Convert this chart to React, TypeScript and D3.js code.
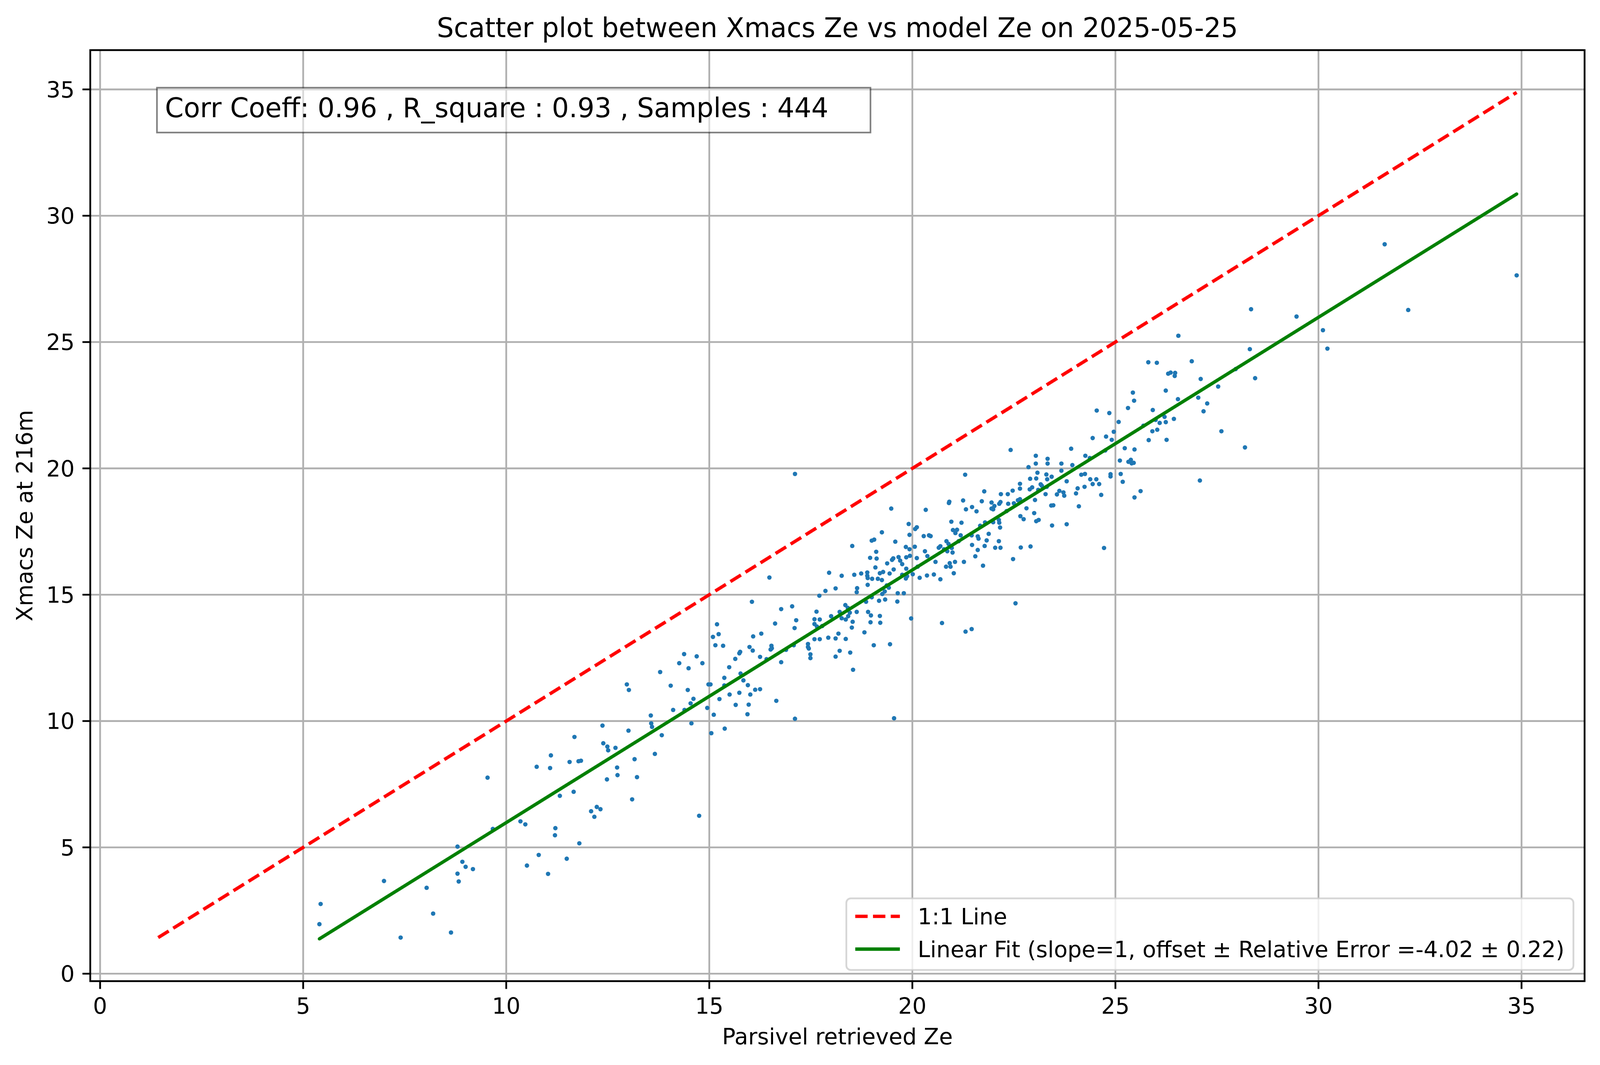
import React, { useLayoutEffect, useRef, useState } from "react";
import * as d3 from "d3";

// ---------- data ----------
const titleText = "Scatter plot between Xmacs Ze vs model Ze on 2025-05-25";
const xLabelText = "Parsivel retrieved Ze";
const yLabelText = "Xmacs Ze at 216m";
const statsText = "Corr Coeff: 0.96 , R_square : 0.93 , Samples : 444    ";
const legendLabels = ["1:1 Line", "Linear Fit (slope=1, offset \u00b1 Relative Error =-4.02 \u00b1 0.22)"];
const fitSlope = 1;
const fitOffset = -4.02;
const xTicks = [0, 5, 10, 15, 20, 25, 30, 35];
const yTicks = [0, 5, 10, 15, 20, 25, 30, 35];

// [Parsivel retrieved Ze, Xmacs Ze]
const lowRangePoints: [number, number][] = [
  [5.43, 2.76], [5.40, 1.96], [6.99, 3.67], [7.40, 1.43], [8.04, 3.40], [8.20, 2.38],
  [8.64, 1.63], [9.54, 7.76], [9.67, 5.73], [8.80, 5.03], [8.92, 4.43], [9.0, 4.23], [9.18, 4.14],
  [8.80, 3.96], [8.83, 3.65], [10.35, 6.03], [10.47, 5.91], [10.51, 4.28], [10.80, 4.70], [11.03, 3.95],
  [11.21, 5.76], [11.20, 5.48], [11.49, 4.55], [11.80, 5.16], [10.75, 8.19], [11.10, 8.64], [11.08, 8.14],
  [11.32, 7.04], [11.56, 8.38], [11.66, 7.20], [11.68, 9.37], [11.78, 8.41], [11.84, 8.43], [12.09, 6.43],
  [12.17, 6.21], [12.23, 6.60], [12.32, 6.51], [12.37, 9.82], [12.39, 9.12], [12.49, 8.99], [12.51, 8.84],
  [12.48, 7.69], [12.69, 8.94], [12.73, 8.16], [12.74, 7.86], [12.97, 11.45], [13.02, 11.23], [13.01, 9.62],
  [13.16, 8.49], [13.22, 7.78], [13.10, 6.90], [13.56, 10.22], [13.57, 9.91], [13.59, 9.77], [13.66, 8.70],
  [13.83, 9.44], [13.79, 11.94], [14.05, 11.40], [14.11, 10.44],
];

const midLowPoints: [number, number][] = [
  [14.26, 12.29], [14.38, 12.65], [14.49, 12.09], [14.69, 12.56], [14.83, 12.29], [14.47, 11.23], [14.61, 10.88],
  [14.54, 10.70], [14.39, 10.44], [14.56, 9.91], [14.95, 10.52], [14.98, 11.45], [15.03, 11.45], [15.09, 13.33],
  [15.19, 13.83], [15.23, 13.44], [15.15, 13.0], [15.34, 12.98], [15.11, 10.25], [15.05, 9.52], [15.25, 10.87],
  [15.38, 9.70], [15.37, 11.71], [15.37, 11.41], [15.49, 12.13], [15.50, 11.05], [15.64, 12.46], [15.74, 12.68],
  [15.76, 12.74], [15.77, 11.88], [15.84, 11.61], [15.74, 11.12], [15.65, 10.64], [15.95, 11.42], [16.01, 11.05],
  [15.97, 10.65], [15.94, 10.27], [16.13, 11.24], [16.25, 11.26], [15.99, 12.93], [16.07, 12.79], [16.08, 13.35],
  [16.05, 14.72], [16.28, 13.46], [16.25, 12.54], [16.41, 12.45], [16.48, 15.68], [16.53, 12.98], [16.51, 12.83],
  [16.54, 12.88], [16.62, 13.86], [16.77, 14.43], [16.77, 12.33], [16.65, 10.80], [16.89, 12.82], [17.04, 14.54],
  [17.14, 13.99], [17.10, 13.68], [17.08, 13.0], [17.11, 10.09], [17.43, 13.05], [17.43, 12.93], [17.45, 12.87],
  [17.49, 12.64], [17.49, 12.49], [17.59, 14.03], [17.59, 13.84], [17.64, 14.33], [17.72, 14.02], [17.71, 14.96],
  [17.65, 13.74], [17.78, 13.76], [17.59, 13.24], [17.72, 13.24], [17.86, 15.15], [17.95, 15.87], [18.11, 15.25],
  [18.26, 15.75], [18.52, 16.93], [18.57, 15.79], [17.93, 13.30], [18.0, 14.15], [18.11, 13.27], [18.18, 13.46],
  [18.11, 12.55], [18.21, 12.78], [18.21, 14.32], [18.35, 14.59], [18.26, 14.07], [18.36, 14.02], [18.42, 14.15],
  [18.46, 14.29], [18.41, 14.48], [18.53, 13.93], [18.51, 13.70], [18.36, 13.25], [18.47, 12.71], [18.54, 12.03],
  [17.11, 19.78], [14.75, 6.25],
];

const midPoints: [number, number][] = [
  [18.64, 15.26], [18.63, 15.10], [18.63, 14.32], [18.74, 15.84], [18.89, 15.88], [18.89, 15.75], [18.90, 15.66],
  [19.01, 15.63], [18.90, 15.39], [18.96, 16.46], [19.00, 17.14], [19.06, 17.18], [19.11, 16.70], [19.12, 16.43],
  [19.09, 16.08], [19.15, 15.63], [19.20, 15.85], [19.28, 15.90], [19.25, 15.58], [19.25, 17.47], [19.38, 16.24],
  [19.44, 15.84], [19.48, 18.41], [19.50, 16.38], [19.53, 16.44], [19.54, 16.0], [19.58, 17.10], [19.66, 16.49],
  [19.70, 16.35], [19.75, 16.21], [19.85, 16.48], [19.84, 16.89], [19.93, 16.80], [19.94, 16.54], [19.91, 17.80],
  [19.93, 17.37], [19.85, 16.03], [19.84, 15.64], [19.87, 15.73], [19.75, 15.79], [20.01, 15.81], [20.06, 16.90],
  [20.07, 17.60], [20.11, 17.67], [20.11, 16.45], [20.13, 16.11], [20.18, 15.67], [20.28, 17.32], [20.33, 18.36],
  [20.41, 17.35], [20.45, 17.32], [20.31, 16.72], [20.37, 16.53], [20.36, 15.76], [20.53, 15.80], [20.57, 16.30],
  [20.69, 15.61], [20.65, 16.86], [20.69, 16.92], [20.78, 16.80], [20.84, 17.12], [20.89, 17.01], [20.86, 16.72],
  [20.90, 18.63], [20.91, 18.68], [20.96, 17.89], [21.0, 17.56], [21.06, 17.44], [21.10, 17.57], [20.97, 16.85],
  [20.99, 16.67], [20.92, 16.25], [20.94, 16.11], [20.83, 16.11], [21.05, 16.30], [21.02, 15.85], [20.73, 13.88],
  [21.14, 17.12], [21.19, 17.35], [21.21, 17.85], [21.25, 18.73], [21.30, 19.75], [21.32, 18.38], [21.47, 18.47],
  [21.58, 18.30], [21.46, 17.35], [21.47, 16.97], [21.27, 16.30], [21.55, 16.52], [21.61, 16.77], [21.61, 17.31],
  [21.63, 17.22], [21.67, 17.73], [21.71, 18.70], [21.77, 19.09], [21.83, 17.15], [21.78, 16.93], [21.88, 17.41],
  [21.79, 17.86], [21.74, 16.15], [21.95, 18.65], [21.95, 18.41], [21.99, 18.38], [22.02, 18.51], [21.99, 17.87],
  [22.04, 16.86], [21.31, 13.54], [21.46, 13.64], [19.97, 14.06], [19.63, 14.73], [19.64, 15.06], [19.79, 15.06],
  [19.33, 14.81], [19.26, 15.03], [19.32, 15.13], [19.37, 15.37], [19.42, 15.28], [19.18, 14.76], [19.0, 14.90],
  [18.86, 14.72], [18.91, 14.32], [18.98, 14.18], [18.97, 13.91], [19.20, 14.16], [19.21, 13.89], [18.82, 13.51],
  [19.05, 13.0], [19.45, 13.04], [19.55, 10.11],
];

const midHighPoints: [number, number][] = [
  [22.14, 18.60], [22.17, 18.67], [22.18, 18.98], [22.13, 17.96], [22.14, 17.85], [22.16, 17.66], [22.13, 17.12],
  [22.17, 16.86], [22.32, 18.31], [22.35, 18.98], [22.36, 18.60], [22.47, 19.12], [22.50, 18.62], [22.42, 20.73],
  [22.60, 18.74], [22.65, 18.78], [22.65, 19.39], [22.65, 19.20], [22.66, 18.11], [22.74, 17.99], [22.67, 16.87],
  [22.48, 16.41], [22.54, 14.66], [22.81, 18.42], [22.86, 20.05], [22.90, 19.59], [22.89, 19.17], [22.95, 19.25],
  [22.91, 16.91], [23.0, 18.23], [23.02, 18.75], [23.05, 17.91], [23.11, 17.96], [23.04, 20.50], [23.04, 20.19],
  [23.08, 19.83], [23.05, 19.60], [23.10, 19.15], [23.16, 19.37], [23.19, 19.31], [23.28, 18.98], [23.30, 19.76],
  [23.32, 19.57], [23.33, 20.38], [23.33, 20.19], [23.31, 19.27], [23.43, 19.67], [23.42, 18.53], [23.47, 18.54],
  [23.44, 17.74], [23.56, 18.97], [23.62, 19.11], [23.67, 20.19], [23.67, 19.91], [23.72, 19.05], [23.74, 18.92],
  [23.80, 19.49], [23.80, 17.79], [23.91, 20.78], [23.94, 20.13], [24.03, 19.01], [24.07, 19.21], [24.10, 18.50],
  [24.16, 19.75], [24.25, 19.78], [24.26, 20.50], [24.24, 19.27], [24.37, 20.41], [24.38, 19.57], [24.44, 19.38],
  [24.44, 21.20], [24.53, 19.57], [24.54, 22.29], [24.60, 19.38], [24.65, 18.95], [24.72, 16.85], [24.75, 20.71],
  [24.77, 21.26], [24.85, 22.19], [24.91, 21.13], [24.96, 21.45], [24.88, 19.77], [24.88, 19.68], [25.08, 21.84],
  [25.11, 20.31], [25.23, 20.80], [25.13, 19.78], [25.18, 19.47], [25.31, 22.39], [25.43, 23.0], [25.46, 22.68],
  [25.47, 20.75], [25.32, 20.26], [25.38, 20.34], [25.40, 20.20], [25.45, 20.22], [25.47, 18.85], [25.62, 19.10],
  [25.69, 21.69],
];

const highRangePoints: [number, number][] = [
  [25.81, 24.20], [26.02, 24.18], [26.55, 25.25], [26.88, 24.24], [26.30, 23.75], [26.36, 23.79], [26.47, 23.78],
  [26.46, 23.66], [26.24, 23.08], [26.54, 22.74], [25.92, 22.31], [25.99, 21.92], [26.21, 22.04], [26.09, 21.80],
  [26.24, 21.83], [26.44, 21.96], [25.91, 21.47], [26.03, 21.53], [25.82, 21.12], [26.26, 21.13], [27.10, 23.54],
  [27.04, 22.80], [27.26, 22.57], [27.17, 22.26], [27.53, 23.24], [27.61, 21.47], [27.08, 19.52], [27.96, 23.93],
  [28.19, 20.83], [28.31, 24.72], [28.34, 26.30], [28.44, 23.57], [29.46, 26.01], [30.11, 25.47], [30.22, 24.74],
  [31.63, 28.87], [32.21, 26.27], [34.88, 27.64],
];

const allPoints: [number, number][] = [
  ...lowRangePoints, ...midLowPoints, ...midPoints, ...midHighPoints, ...highRangePoints,
];

// ---------- layout ----------
const W = 4981;
const H_REF = 2726;
const PT = 500 / 72; // px per point
const FONT = "'DejaVu Sans', 'Liberation Sans', sans-serif";
const TICK_FS = 10 * PT;
const TITLE_FS = 12 * PT;
const BLUE = "#1f77b4";

function viewportHeightUnits(): number {
  if (typeof window === "undefined" || !window.innerWidth || !window.innerHeight) return H_REF;
  return (W * window.innerHeight) / window.innerWidth;
}

export default function App() {
  const legendRef = useRef<SVGTextElement>(null);
  const [legendTextW, setLegendTextW] = useState(2010);
  const [H, setH] = useState<number>(viewportHeightUnits());

  useLayoutEffect(() => {
    document.body.style.margin = "0";
    document.documentElement.style.overflow = "hidden";
    document.body.style.overflow = "hidden";
    setH(viewportHeightUnits());
    if (legendRef.current) {
      setLegendTextW(legendRef.current.getComputedTextLength());
    }
    const onResize = () => setH(viewportHeightUnits());
    window.addEventListener("resize", onResize);
    return () => window.removeEventListener("resize", onResize);
  }, []);

  const AX = { left: 281, top: 156, right: 4933, bottom: H - (H_REF - 2465) };

  const xsArr = allPoints.map((p) => p[0]);
  const ysArr = allPoints.map((p) => p[1]);
  const minX = d3.min(xsArr) as number;
  const maxX = d3.max(xsArr) as number;
  const minY = d3.min(ysArr) as number;
  const maxY = d3.max(ysArr) as number;
  const oneLo = Math.min(minX, minY);
  const oneHi = Math.max(maxX, maxY);
  const oneLine: [number, number][] = [[oneLo, oneLo], [oneHi, oneHi]];
  const fitLine: [number, number][] = [
    [minX, fitSlope * minX + fitOffset],
    [maxX, fitSlope * maxX + fitOffset],
  ];

  const xLo = Math.min(oneLo, minX);
  const xHi = Math.max(oneHi, maxX);
  const yLo = Math.min(oneLo, minY, fitLine[0][1]);
  const yHi = Math.max(oneHi, maxY, fitLine[1][1]);
  const xPad = 0.05 * (xHi - xLo);
  const yPad = 0.05 * (yHi - yLo);

  const x = d3.scaleLinear().domain([xLo - xPad, xHi + xPad]).range([AX.left, AX.right]);
  const y = d3.scaleLinear().domain([yLo - yPad, yHi + yPad]).range([AX.bottom, AX.top]);
  const line = d3.line<[number, number]>().x((d) => x(d[0])).y((d) => y(d[1]));

  const gridW = 0.8 * PT;
  const tickLen = 3.5 * PT;
  const tickPad = 3.5 * PT;
  const lineW = 1.5 * PT;
  const dash = `${3.7 * lineW} ${1.6 * lineW}`;

  // stats box (text at axes fraction 0.05, 0.95, va=top)
  const statsX = AX.left + 0.05 * (AX.right - AX.left);
  const statsBaseline = AX.top + 0.05 * (AX.bottom - AX.top) + 0.76 * TITLE_FS;
  const statsPad = 0.3 * TITLE_FS;

  // legend geometry
  const lgFs = TICK_FS;
  const lgBorderPad = 0.4 * lgFs;
  const lgHandleLen = 2.0 * lgFs;
  const lgHandlePad = 0.8 * lgFs;
  const lgRight = AX.right - 0.5 * lgFs;
  const lgBottom = AX.bottom - 0.5 * lgFs;
  const lgWidth = lgBorderPad * 2 + lgHandleLen + lgHandlePad + legendTextW;
  const lgHeight = 223;
  const lgLeft = lgRight - lgWidth;
  const lgTop = lgBottom - lgHeight;
  const rowCenters = [lgTop + 56, lgTop + 158];

  return (
    <svg
      viewBox={`0 0 ${W} ${H}`}
      preserveAspectRatio="xMinYMin meet"
      style={{ display: "block", width: "100vw", height: "100vh" }}
      fontFamily={FONT}
    >
      <rect x={0} y={0} width={W} height={H} fill="#ffffff" />
      <defs>
        <clipPath id="axclip">
          <rect x={AX.left} y={AX.top} width={AX.right - AX.left} height={AX.bottom - AX.top} />
        </clipPath>
      </defs>
      {/* grid */}
      <g stroke="#b0b0b0" strokeWidth={gridW}>
        {xTicks.map((t) => (
          <line key={"gx" + t} x1={x(t)} x2={x(t)} y1={AX.top} y2={AX.bottom} />
        ))}
        {yTicks.map((t) => (
          <line key={"gy" + t} x1={AX.left} x2={AX.right} y1={y(t)} y2={y(t)} />
        ))}
      </g>
      {/* scatter + lines */}
      <g clipPath="url(#axclip)">
        {allPoints.map((p, i) => (
          <circle key={i} cx={x(p[0])} cy={y(p[1])} r={6.9} fill={BLUE} />
        ))}
        <path d={line(oneLine) || ""} fill="none" stroke="#ff0000" strokeWidth={lineW} strokeDasharray={dash} />
        <path d={line(fitLine) || ""} fill="none" stroke="#008000" strokeWidth={lineW} strokeLinecap="round" />
      </g>
      {/* spines */}
      <rect
        x={AX.left}
        y={AX.top}
        width={AX.right - AX.left}
        height={AX.bottom - AX.top}
        fill="none"
        stroke="#000"
        strokeWidth={0.8 * PT}
      />
      {/* x ticks */}
      <g>
        {xTicks.map((t) => (
          <g key={"xt" + t}>
            <line x1={x(t)} x2={x(t)} y1={AX.bottom} y2={AX.bottom + tickLen} stroke="#000" strokeWidth={0.8 * PT} />
            <text
              x={x(t)}
              y={AX.bottom + tickLen + tickPad + 0.76 * TICK_FS}
              fontSize={TICK_FS}
              textAnchor="middle"
              fill="#000"
            >
              {t}
            </text>
          </g>
        ))}
      </g>
      {/* y ticks */}
      <g>
        {yTicks.map((t) => (
          <g key={"yt" + t}>
            <line x1={AX.left - tickLen} x2={AX.left} y1={y(t)} y2={y(t)} stroke="#000" strokeWidth={0.8 * PT} />
            <text
              x={AX.left - tickLen - tickPad}
              y={y(t) + 0.364 * TICK_FS}
              fontSize={TICK_FS}
              textAnchor="end"
              fill="#000"
            >
              {t}
            </text>
          </g>
        ))}
      </g>
      {/* axis labels */}
      <text x={(AX.left + AX.right) / 2} y={AX.bottom + 196} fontSize={TICK_FS} textAnchor="middle" fill="#000">
        {xLabelText}
      </text>
      <text
        transform={`translate(101, ${(AX.top + AX.bottom) / 2}) rotate(-90)`}
        fontSize={TICK_FS}
        textAnchor="middle"
        fill="#000"
      >
        {yLabelText}
      </text>
      {/* title */}
      <text x={(AX.left + AX.right) / 2} y={115} fontSize={TITLE_FS} textAnchor="middle" fill="#000">
        {titleText}
      </text>
      {/* stats box */}
      <StatsBox x={statsX} baseline={statsBaseline} pad={statsPad} />
      {/* legend */}
      <g>
        <rect
          x={lgLeft}
          y={lgTop}
          width={lgWidth}
          height={lgHeight}
          rx={0.2 * lgFs}
          ry={0.2 * lgFs}
          fill="#ffffff"
          fillOpacity={0.8}
          stroke="#cccccc"
          strokeOpacity={0.8}
          strokeWidth={PT * 0.8}
        />
        <line
          x1={lgLeft + lgBorderPad}
          x2={lgLeft + lgBorderPad + lgHandleLen}
          y1={rowCenters[0]}
          y2={rowCenters[0]}
          stroke="#ff0000"
          strokeWidth={lineW}
          strokeDasharray={dash}
        />
        <text
          x={lgLeft + lgBorderPad + lgHandleLen + lgHandlePad}
          y={rowCenters[0] + 0.36 * lgFs}
          fontSize={lgFs}
          fill="#000"
        >
          {legendLabels[0]}
        </text>
        <line
          x1={lgLeft + lgBorderPad}
          x2={lgLeft + lgBorderPad + lgHandleLen}
          y1={rowCenters[1]}
          y2={rowCenters[1]}
          stroke="#008000"
          strokeWidth={lineW}
        />
        <text
          ref={legendRef}
          x={lgLeft + lgBorderPad + lgHandleLen + lgHandlePad}
          y={rowCenters[1] + 0.36 * lgFs}
          fontSize={lgFs}
          fill="#000"
        >
          {legendLabels[1]}
        </text>
      </g>
    </svg>
  );
}

function StatsBox({ x, baseline, pad }: { x: number; baseline: number; pad: number }) {
  const ref = useRef<SVGTextElement>(null);
  const [w, setW] = useState(2180);
  useLayoutEffect(() => {
    if (ref.current) setW(ref.current.getComputedTextLength());
  }, []);
  const top = baseline - 0.795 * TITLE_FS;
  const bottom = baseline + 0.28 * TITLE_FS;
  return (
    <g>
      <rect
        x={x - pad}
        y={top - pad}
        width={w + 2 * pad}
        height={bottom - top + 2 * pad}
        fill="#ffffff"
        fillOpacity={0.5}
        stroke="#000000"
        strokeOpacity={0.5}
        strokeWidth={5}
      />
      <text ref={ref} x={x} y={baseline} fontSize={TITLE_FS} fill="#000" style={{ whiteSpace: "pre" }}>
        {statsText}
      </text>
    </g>
  );
}
